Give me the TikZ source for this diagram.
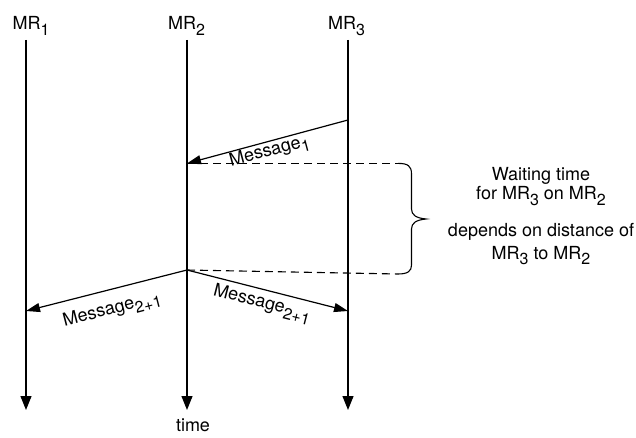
\documentclass[tikz,border=0pt]{standalone}
\usepackage{fontspec}
\setmainfont{TeX Gyre Heros}
\usetikzlibrary{arrows.meta}
\newcommand\lsub[1]{\raisebox{-0.3em}{\fontsize{16bp}{16bp}\selectfont #1}}
\tikzset{
  lbl/.style={inner sep=0pt, font=\fontsize{18bp}{20bp}\selectfont},
  life/.style={line width=1.2bp, -{Triangle[length=14bp,width=11bp]}},
  msg/.style={line width=1.2bp, -{Triangle[length=14bp,width=9bp]}},
  wait/.style={line width=1.1bp, dash pattern=on 8bp off 5bp},
  bracepath/.style={line width=1.1bp}
}
\begin{document}
\begin{tikzpicture}[x=1bp,y=-1bp]
\useasboundingbox (0,0) rectangle (636,438);
% lifelines
\coordinate (t1) at (26,40);  \coordinate (b1) at (26,410);
\coordinate (t2) at (187,40); \coordinate (b2) at (187,410);
\coordinate (t3) at (348,40); \coordinate (b3) at (348,410);
\draw[life] (t1) -- (b1);
\draw[life] (t2) -- (b2);
\draw[life] (t3) -- (b3);
\node[lbl, anchor=base west] (l1) at (12.5,30) {MR\lsub{1}};
\node[lbl, anchor=base west] (l2) at (168,30) {MR\lsub{2}};
\node[lbl, anchor=base west] (l3) at (328,30) {MR\lsub{3}};
\node[lbl, anchor=base] (time) at (193,431) {time};
% messages
\coordinate (m3s) at (348,120);
\coordinate (m2r) at (187,163.4);
\coordinate (m2s) at (187,270);
\coordinate (m1r) at (26,311);
\coordinate (m3r) at (348,311);
\draw[msg] (m3s) -- (m2r);
\draw[msg] (m2s) -- (m1r);
\draw[msg] (m2s) -- (m3r);
\node[lbl, anchor=base west, rotate=15] (msg1) at (231,166.5) {Message\lsub{1}};
\node[lbl, anchor=base west, rotate=14.5] (msg21) at (64.5,326.5) {Message\lsub{2+1}};
\node[lbl, anchor=base west, rotate=-14.5] (msg23) at (212.5,295) {Message\lsub{2+1}};
% waiting interval
\coordinate (bt) at (398,163.4);
\coordinate (bb) at (398,274);
\draw[wait] (m2r) -- (bt);
\draw[wait] (m2s) -- (bb);
\draw[bracepath] (bt) .. controls (408,163.4) and (411.5,166) .. (411.5,174)
  -- (411.5,209) .. controls (411.5,215) and (416,218) .. (426,219)
  .. controls (416,220) and (411.5,223) .. (411.5,229)
  -- (411.5,265) .. controls (411.5,271) and (408,274) .. (bb);
\node[lbl, anchor=base] (w1) at (541,181) {Waiting time};
\node[lbl, anchor=base] (w2) at (541,200) {for MR\lsub{3} on MR\lsub{2}};
\node[lbl, anchor=base] (w3) at (541,237) {depends on distance of};
\node[lbl, anchor=base] (w4) at (541,259.5) {MR\lsub{3} to MR\lsub{2}};
\end{tikzpicture}
\end{document}
